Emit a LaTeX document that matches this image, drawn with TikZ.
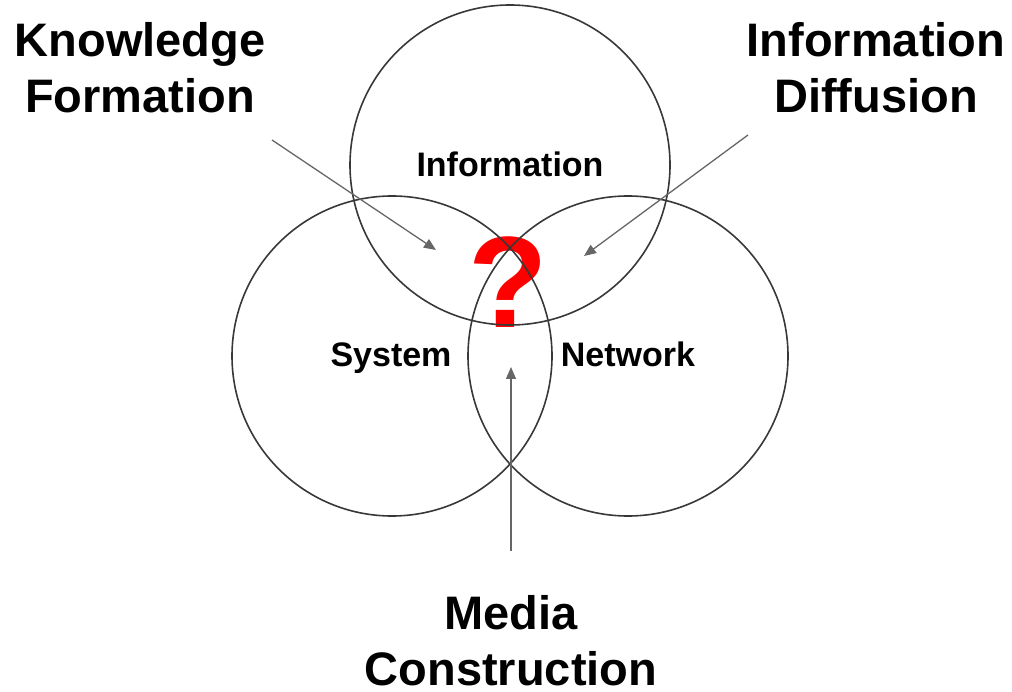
\documentclass[tikz,border=0pt]{standalone}
\usepackage{fontspec}
\setmainfont{Liberation Sans}
\usetikzlibrary{arrows.meta}
\begin{document}
\begin{tikzpicture}[x=1pt,y=-1pt,
  ring/.style={draw=black!78,line width=1.6pt},
  biglabel/.style={font=\bfseries\fontsize{47}{56}\selectfont,align=center,inner sep=0pt,anchor=base},
  setlabel/.style={font=\bfseries\fontsize{34}{40}\selectfont,inner sep=0pt,anchor=base},
  pointer/.style={draw=black!60,line width=1.3pt,-{Triangle[length=12pt,width=10pt]}}]
\useasboundingbox (0,0) rectangle (1012,692);
% question mark under the circles
\node[font=\bfseries\fontsize{130}{140}\selectfont,text=red,inner sep=0pt,anchor=base] (q) at (508,328) {?};
% circles
\node[ring,circle,minimum size=320pt,inner sep=0pt] (info) at (510,165) {};
\node[ring,circle,minimum size=320pt,inner sep=0pt] (sys) at (392,356) {};
\node[ring,circle,minimum size=320pt,inner sep=0pt] (net) at (628,356) {};
% set labels
\node[setlabel] (infolab) at (510,177) {Information};
\node[setlabel] (syslab) at (391,367) {System};
\node[setlabel] (netlab) at (628,367) {Network};
% outer labels
\node[biglabel] (kf) at (140,113) {Knowledge\\Formation};
\node[biglabel] (id) at (876,113) {Information\\Diffusion};
\node[biglabel] (mc) at (511,685) {Media\\Construction};
% arrows
\coordinate (kfs) at (272,140);
\coordinate (kfe) at (436,250);
\coordinate (ids) at (748,135);
\coordinate (ide) at (584,256);
\coordinate (mcs) at (511,551);
\coordinate (mce) at (511,367);
\draw[pointer] (kfs) -- (kfe);
\draw[pointer] (ids) -- (ide);
\draw[pointer] (mcs) -- (mce);
\end{tikzpicture}
\end{document}
